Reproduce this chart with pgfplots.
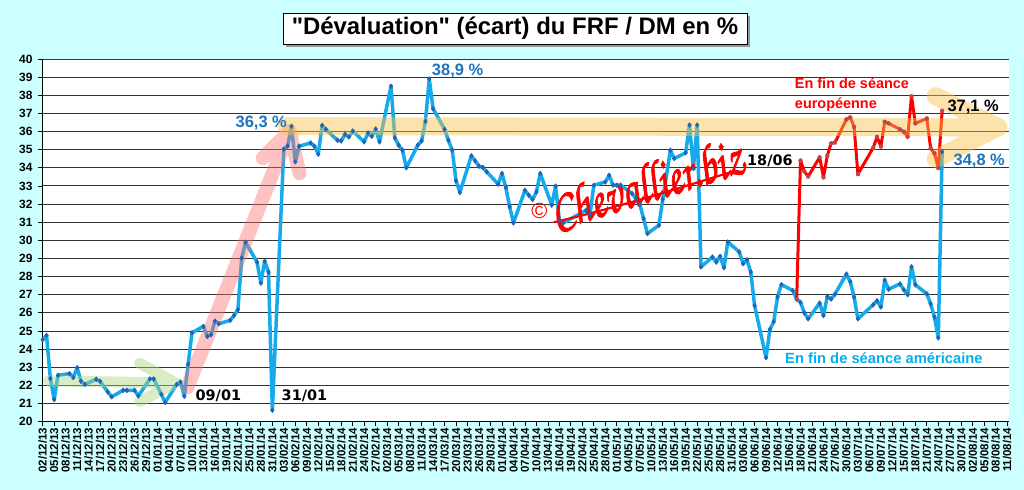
\documentclass[border=0pt]{standalone}
\usepackage{fontspec}
\setmainfont{Liberation Sans}
\newfontfamily\dejavu{DejaVu Sans}
\newfontfamily\chorus{texgyrechorus-mediumitalic.otf}[FakeBold=1.6]
\usepackage{pgfplots}
\pgfplotsset{compat=1.18}
\usetikzlibrary{shadows}
\definecolor{bgcyan}{RGB}{204,255,255}
\definecolor{lineblue}{RGB}{20,170,235}
\definecolor{markblue}{RGB}{35,100,180}
\definecolor{markred}{RGB}{190,70,70}
\definecolor{lblblue}{RGB}{30,115,190}
\definecolor{txtcyan}{RGB}{0,176,240}
\definecolor{arrgreen}{RGB}{170,215,130}
\definecolor{arrpink}{RGB}{255,110,110}
\definecolor{arryellow}{RGB}{250,195,70}
\begin{document}
\begin{tikzpicture}[x=1bp,y=1bp]
\fill[bgcyan] (0,0) rectangle (1024,490);
\path[use as bounding box] (0,0) rectangle (1024,490);
\node[draw=black, line width=0.8bp, fill=white,
  drop shadow={shadow xshift=3bp, shadow yshift=-3bp, fill=black!55, opacity=0.7},
  minimum width=464bp, minimum height=31bp, inner sep=0pt,
  font=\bfseries\fontsize{24}{24}\selectfont] at (515,461.5) {\textquotedbl Dévaluation\textquotedbl\ (écart) du FRF / DM en \%};
\begin{axis}[
  at={(42.7bp,68.3bp)}, anchor=south west,
  scale only axis, width=966bp, height=362.7bp,
  xmin=0, xmax=252.4, ymin=20, ymax=40,
  axis x line*=bottom, axis y line*=left,
  axis line style={black, line width=1bp},
  axis background/.style={fill=white},
  xtick={0,3,...,252},
  xticklabels={02/12/13,05/12/13,08/12/13,11/12/13,14/12/13,17/12/13,20/12/13,23/12/13,26/12/13,29/12/13,
01/01/14,04/01/14,07/01/14,10/01/14,13/01/14,16/01/14,19/01/14,22/01/14,25/01/14,28/01/14,31/01/14,
03/02/14,06/02/14,09/02/14,12/02/14,15/02/14,18/02/14,21/02/14,24/02/14,27/02/14,
02/03/14,05/03/14,08/03/14,11/03/14,14/03/14,17/03/14,20/03/14,23/03/14,26/03/14,29/03/14,
01/04/14,04/04/14,07/04/14,10/04/14,13/04/14,16/04/14,19/04/14,22/04/14,25/04/14,28/04/14,
01/05/14,04/05/14,07/05/14,10/05/14,13/05/14,16/05/14,19/05/14,22/05/14,25/05/14,28/05/14,31/05/14,
03/06/14,06/06/14,09/06/14,12/06/14,15/06/14,18/06/14,21/06/14,24/06/14,27/06/14,30/06/14,
03/07/14,06/07/14,09/07/14,12/07/14,15/07/14,18/07/14,21/07/14,24/07/14,27/07/14,30/07/14,
02/08/14,05/08/14,08/08/14,11/08/14},
  ytick={20,21,...,40},
  ymajorgrids,
  grid style={black!80, line width=0.9bp},
  tick align=outside, major tick length=4.5bp,
  tick style={black, line width=0.8bp},
  /pgf/number format/assume math mode=true,
  xticklabel style={rotate=90, anchor=east, inner sep=1.5bp, font=\bfseries\fontsize{11.5}{11.5}\selectfont},
  yticklabel style={inner sep=2bp, xshift=-3.5bp, font=\bfseries\fontsize{12}{12}\selectfont},
  clip=false,
]
\addplot[lineblue, line width=3.5bp, line join=round, mark=diamond*, mark size=2.4bp,
  mark options={fill=markblue, draw=markblue, line width=0.5bp}] coordinates {
(0,24.52)(1,24.76)(2,22.38)(3,21.22)(4,22.56)(7,22.65)(8,22.43)(9,22.98)(10,22.23)(11,22.06)
(14,22.34)(15,22.23)(17,21.64)(18,21.37)(21,21.73)(22,21.73)(24,21.73)(25,21.42)(28,22.36)(29,22.36)
(31,21.51)(32,21.06)(35,22.06)(36,22.19)(37,21.40)(38,23.17)(39,24.90)(42,25.26)(43,24.70)(44,24.80)
(45,25.55)(46,25.40)(49,25.59)(50,25.86)(51,26.17)(52,29.02)(53,29.90)(56,28.80)(57,27.64)(58,28.85)
(59,28.25)(60,20.63)(63,35.03)(64,35.20)(65,36.29)(66,34.33)(67,35.19)(70,35.37)(71,35.19)(72,34.75)
(73,36.34)(74,36.12)(77,35.52)(78,35.48)(79,35.85)(80,35.70)(81,36.03)(84,35.43)(85,35.92)(86,35.74)
(87,36.14)(88,35.43)(91,38.50)(92,35.65)(93,35.25)(94,34.97)(95,34.00)(98,35.25)(99,35.48)(100,36.56)
(101,38.90)(102,37.26)(105,36.12)(106,35.52)(107,34.97)(108,33.29)(109,32.64)(112,34.66)(113,34.38)(114,34.09)
(115,34.02)(116,33.78)(119,33.10)(120,33.69)(121,32.92)(122,31.86)(123,30.96)(126,32.76)(127,32.49)(128,32.25)
(129,32.67)(130,33.69)(133,31.94)(134,32.99)(135,31.10)(136,30.96)(142,31.66)(143,31.42)(144,33.04)(147,33.22)
(148,33.59)(149,33.04)(150,33.04)(151,33.04)(154,32.58)(155,32.30)(156,31.99)(157,31.20)(158,30.37)(161,30.83)
(162,32.25)(164,34.97)(165,34.51)(168,34.83)(169,36.36)(170,33.96)(171,36.36)(172,28.53)(175,29.08)(176,28.80)
(177,29.12)(178,28.49)(179,29.91)(182,29.36)(183,28.71)(184,28.93)(185,28.25)(186,26.41)(189,23.53)(190,25.09)
(191,25.51)(192,26.88)(193,27.56)(196,27.23)(197,26.76)(198,26.58)(199,26.00)(200,25.67)(203,26.54)(204,25.85)
(205,26.90)(206,26.76)(207,27.03)(210,28.14)(211,27.72)(212,26.87)(213,25.67)(217,26.45)(218,26.67)(219,26.32)
(220,27.81)(221,27.30)(224,27.60)(225,27.27)(226,27.00)(227,28.54)(228,27.55)(231,27.05)(232,26.50)(233,25.77)
(234,24.62)(235,34.89)};
\addplot[red, line width=3bp, line join=round, mark=*, mark size=2bp,
  mark options={fill=markred, draw=markred, line width=0.3bp}] coordinates {
(197,26.76)(198,34.40)(199,33.80)(200,33.52)(203,34.58)(204,33.47)(205,34.67)(206,35.35)(207,35.39)
(210,36.67)(211,36.78)(212,36.26)(213,33.65)(217,35.11)(218,35.71)(219,35.17)(220,36.54)(221,36.45)
(224,36.12)(225,35.99)(226,35.71)(227,37.95)(228,36.45)(231,36.72)(232,35.07)(233,34.80)(234,33.98)(235,37.14)};
% decorative arrows
\draw[arrgreen, opacity=0.45, line width=11bp, line cap=round, line join=round]
  (1.5,22.25) -- (34.8,22.13) (25.3,23.22) -- (34.8,22.13) -- (25.3,21.1);
\draw[arrpink, opacity=0.42, line width=14bp, line cap=round, line join=round]
  (37.8,21.9) -- (64.5,36.03) (57.5,34.53) -- (64.5,36.03) -- (67.1,33.7);
\draw[arryellow, opacity=0.45, line width=18bp, line cap=round, line join=round]
  (63.7,36.3) -- (249.7,36.23) (233.3,37.95) -- (249.7,36.23) -- (233.3,34.5);
% labels
\node[text=lblblue, font=\bfseries\fontsize{16.5}{16.5}\selectfont] at (57.1,36.45) {36,3 \%};
\node[text=lblblue, font=\bfseries\fontsize{16.5}{16.5}\selectfont] at (108.4,39.34) {38,9 \%};
\node[font=\dejavu\bfseries\fontsize{14.5}{14.5}\selectfont] at (45.9,21.4) {09/01};
\node[font=\dejavu\bfseries\fontsize{14.5}{14.5}\selectfont] at (68.4,21.45) {31/01};
\node[font=\dejavu\bfseries\fontsize{14.5}{14.5}\selectfont] at (190.0,34.38) {18/06};
\node[font=\bfseries\fontsize{16.5}{16.5}\selectfont] at (243.1,37.36) {37,1 \%};
\node[text=lblblue, font=\bfseries\fontsize{16.5}{16.5}\selectfont] at (244.7,34.38) {34,8 \%};
\node[text=red, anchor=base west, inner sep=0pt, font=\bfseries\fontsize{14.5}{14.5}\selectfont] at (196.5,38.39) {En fin de séance};
\node[text=red, anchor=base west, inner sep=0pt, font=\bfseries\fontsize{14.5}{14.5}\selectfont] at (196.5,37.25) {européenne};
\node[text=txtcyan, font=\bfseries\fontsize{14.8}{14.8}\selectfont] at (219.8,23.49) {En fin de séance américaine};
% watermark
\node[text=red, font=\fontsize{22}{22}\selectfont] at (129.8,31.6) {©};
\node[text=red, rotate=17, yscale=1.35, font=\chorus\fontsize{42}{42}\selectfont] at (157.8,33.05) {Chevallier.biz};
\draw[red, line width=2.2bp, line cap=round] (133.6,31.0) .. controls (150,31.8) and (165,32.8) .. (180.4,33.8);
\end{axis}
\end{tikzpicture}
\end{document}
